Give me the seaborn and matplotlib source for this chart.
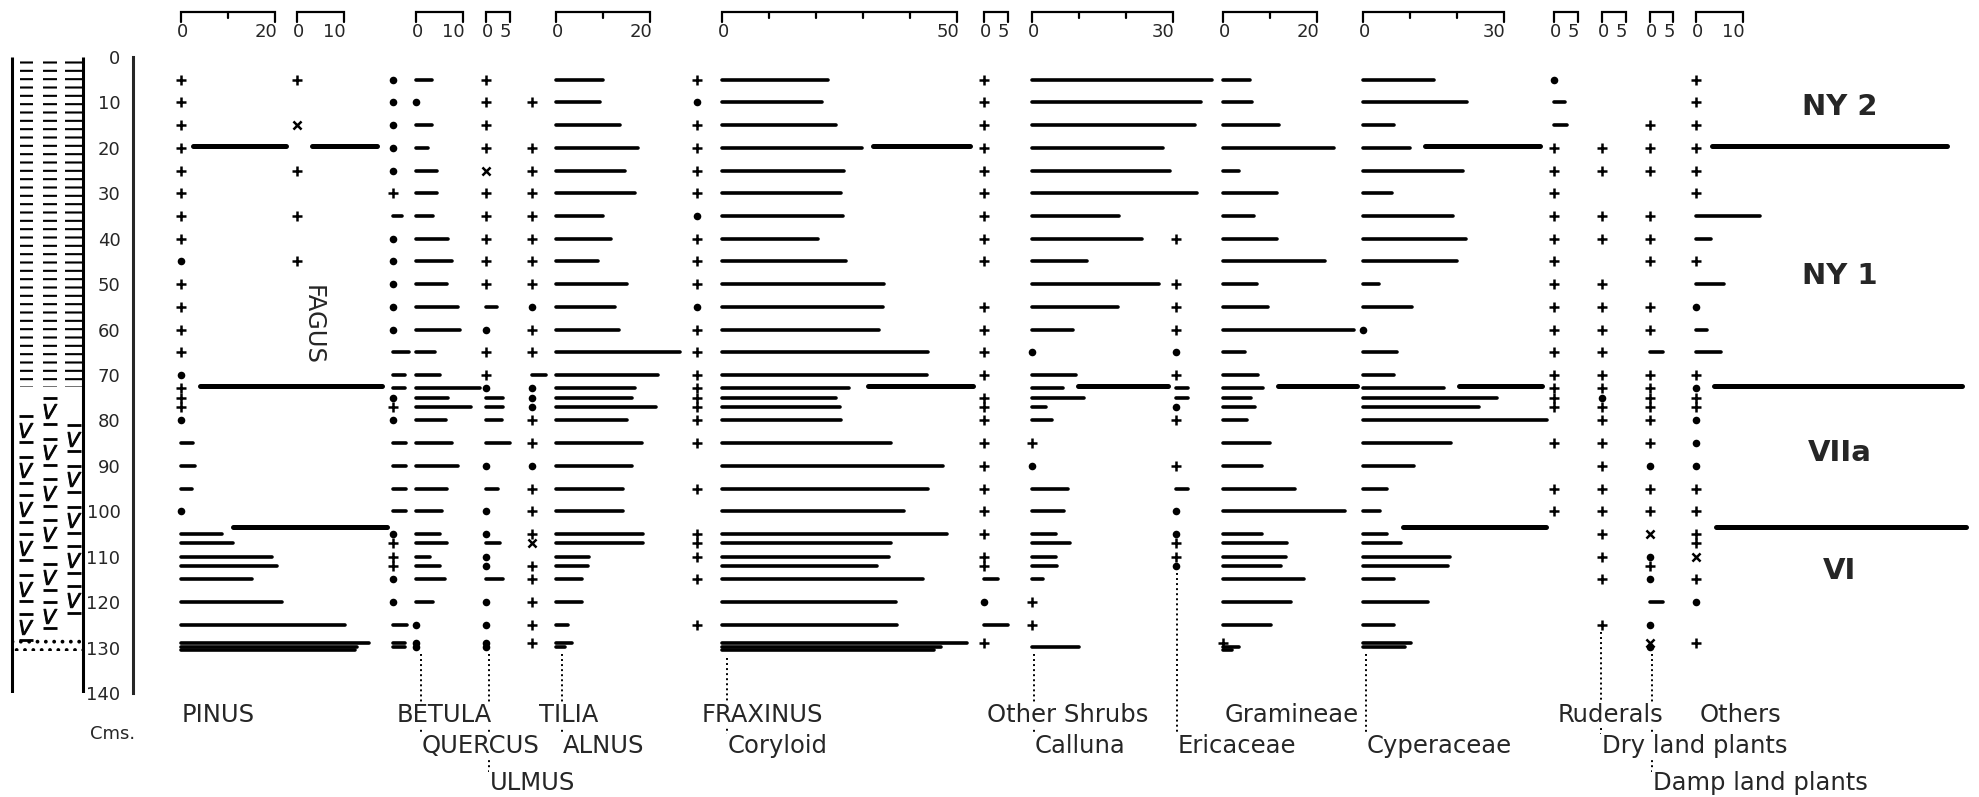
import matplotlib
matplotlib.use("Agg")
import matplotlib.pyplot as plt
from matplotlib.patches import Rectangle
import pandas as pd
import seaborn as sns

# --- Pollen counts, one entry per sample depth (cm) ---
# numbers are bar lengths in %, "+" present, "o" dot, "x" cross, None nothing
P, O, X, N = "+", "o", "x", None

DEPTHS = [5, 10, 15, 20, 25, 30, 35, 40, 45, 50, 55, 60, 65, 70,
          72.8, 75, 77, 80, 85, 90, 95, 100,
          105, 107, 110, 112, 115, 120, 125, 129.0, 129.8, 130.6]

PINUS = [P, P, P, P, P, P, P, P, O, P, P, P, P, O,
         P, P, P, O, 2.5, 3.0, 2.3, O,
         8.7, 11.1, 19.3, 20.4, 15.0, 21.4, 34.9, 40.0, 37.5, 37.0]
FAGUS = [P, N, X, N, P, N, P, N, P, N, N, N, N, N,
         N, N, N, N, N, N, N, N,
         N, N, N, N, N, N, N, N, N, N]
BETULA = [O, O, O, O, O, P, 2.0, O, O, O, O, O, 3.5, 2.6,
          2.5, O, P, O, 2.8, 2.8, 2.8, 2.8,
          O, P, P, P, O, O, 3.0, 2.5, 2.5, N]
QUERCUS = [3.3, O, 3.3, 2.6, 4.4, 4.4, 3.6, 6.9, 7.6, 6.5, 9.0, 9.4, 4.0, 5.1,
           13.6, 6.9, 11.8, 6.3, 7.6, 9.0, 6.5, 5.5,
           5.1, 6.5, 3.0, 5.1, 6.2, 3.7, O, O, O, N]
ULMUS = [P, P, P, P, X, P, P, P, P, P, 2.3, O, P, P,
         O, 3.6, 3.6, 3.3, 5.1, O, 2.6, O,
         O, 3.0, O, O, 3.6, O, O, O, O, N]
TILIA = [N, P, N, P, P, P, P, P, P, P, O, P, P, 3.0,
         O, O, O, P, P, O, P, P,
         P, X, N, P, P, P, P, P, N, N]
ALNUS = [10.1, 9.4, 13.6, 17.5, 14.7, 16.8, 10.1, 11.8, 9.0, 15.0, 12.6, 13.3, 26.4, 21.8,
         16.8, 16.1, 21.3, 15.0, 18.2, 16.1, 14.3, 14.3,
         18.6, 18.6, 7.1, 6.9, 5.5, 5.5, 2.6, 3.3, 2.0, N]
FRAXINUS = [P, O, P, P, P, P, O, P, P, P, O, P, P, P,
            P, P, P, P, P, N, P, N,
            P, P, P, N, P, N, P, N, N, N]
CORYLOID = [22.6, 21.2, 24.3, 29.7, 26.0, 25.3, 25.8, 20.4, 26.3, 34.5, 34.3, 33.5, 43.8, 43.7,
            27.0, 24.2, 25.1, 25.3, 36.0, 47.0, 43.8, 38.7,
            47.8, 36.0, 35.5, 33.0, 42.7, 37.0, 37.2, 52.2, 46.7, 45.0]
OTHER_SHRUBS = [P, P, P, P, P, P, P, P, P, N, P, P, P, P,
                N, P, P, P, P, P, P, P,
                P, N, P, P, 3.0, O, 5.2, P, N, N]
CALLUNA = [38.2, 36.0, 34.7, 27.8, 29.4, 35.0, 18.6, 23.3, 11.6, 27.1, 18.2, 8.8, O, 9.4,
           6.7, 11.1, 2.9, 4.3, P, O, 7.7, 6.9,
           5.2, 8.1, 5.2, 5.3, 2.4, P, P, N, 9.9, N]
ERICACEAE = [N, N, N, N, N, N, N, P, N, P, P, P, O, P,
             2.5, 2.5, O, P, N, P, 2.5, O,
             O, P, P, O, N, N, N, N, N, N]
GRAMINEAE = [5.7, 6.1, 12.0, 23.7, 3.5, 11.4, 6.5, 11.4, 21.7, 7.2, 9.6, 27.9, 4.7, 7.5,
             8.6, 6.0, 6.8, 5.0, 10.0, 8.4, 15.3, 26.0,
             8.2, 13.7, 13.4, 12.3, 17.2, 14.4, 10.2, P, 3.5, 2.0]
CYPERACEAE = [15.0, 22.1, 6.7, 10.0, 21.3, 6.1, 19.2, 21.9, 20.1, 3.5, 10.5, O, 7.3, 6.7,
              17.3, 28.6, 24.6, 39.2, 18.7, 10.9, 5.0, 3.6,
              5.0, 8.1, 18.5, 18.1, 6.5, 13.8, 6.5, 10.3, 9.0, N]
RUDERALS = [O, 2.4, 2.8, P, P, P, P, P, P, P, P, P, P, P,
            P, P, P, N, P, N, P, P,
            N, N, N, N, N, N, N, N, N, N]
DRY_LAND = [N, N, N, P, P, N, P, P, N, P, P, P, P, P,
            P, O, P, P, P, P, P, P,
            P, N, P, N, P, N, P, N, N, N]
DAMP_LAND = [N, N, P, P, P, N, P, P, P, N, P, P, 2.7, P,
             P, P, P, P, P, O, P, P,
             X, N, O, P, O, 2.8, O, X, O, N]
OTHERS = [P, P, P, P, P, P, 13.6, 3.1, P, 5.9, O, 2.3, 5.3, P,
          O, P, P, O, O, O, P, P,
          P, P, X, N, P, O, N, P, N, N]

ZONE_BOUNDS = [19.5, 72.5, 103.4]
ZONE_NAMES = ["NY 2", "NY 1", "VIIa", "VI"]

# --- layout (pixel positions in the 1979 px wide figure) ---
PX_PER_PCT = 4.70
X0 = 181


def u(px):
    return (px - X0) / PX_PER_PCT


# name, values, origin px, label, label row, label px, scale max, inner ticks
COLUMNS = [
    ("PINUS", PINUS, 181, "PINUS", 1, 182, 20, [10]),
    ("FAGUS", FAGUS, 297, None, 0, 0, 10, []),
    ("BETULA", BETULA, 393, "BETULA", 1, 397, None, []),
    ("QUERCUS", QUERCUS, 416, "QUERCUS", 2, 422, 10, []),
    ("ULMUS", ULMUS, 486, "ULMUS", 3, 490, 5, []),
    ("TILIA", TILIA, 532, "TILIA", 1, 539, None, []),
    ("ALNUS", ALNUS, 556, "ALNUS", 2, 563, 20, [10]),
    ("FRAXINUS", FRAXINUS, 697, "FRAXINUS", 1, 702, None, []),
    ("CORYLOID", CORYLOID, 722, "Coryloid", 2, 728, 50, [10, 20, 30, 40]),
    ("OTHER_SHRUBS", OTHER_SHRUBS, 984, "Other Shrubs", 1, 987, 5, []),
    ("CALLUNA", CALLUNA, 1032, "Calluna", 2, 1035, 30, [10, 20]),
    ("ERICACEAE", ERICACEAE, 1176, "Ericaceae", 2, 1178, None, []),
    ("GRAMINEAE", GRAMINEAE, 1223, "Gramineae", 1, 1225, 20, [10]),
    ("CYPERACEAE", CYPERACEAE, 1363, "Cyperaceae", 2, 1367, 30, [10, 20]),
    ("RUDERALS", RUDERALS, 1554, "Ruderals", 1, 1558, 5, []),
    ("DRY_LAND", DRY_LAND, 1602, "Dry land plants", 2, 1602, 5, []),
    ("DAMP_LAND", DAMP_LAND, 1650, "Damp land plants", 3, 1653, 5, []),
    ("OTHERS", OTHERS, 1696, "Others", 1, 1700, 10, []),
]
ROW_BASE = {1: 146.4, 2: 153.2, 3: 161.3}
ROW_TOP = {2: 149.0, 3: 157.3}

ZONE_SPANS = [
    [(193, 286), (312, 377), (873, 970), (1425, 1540), (1712, 1947)],
    [(200, 382), (868, 973), (1078, 1168), (1278, 1357), (1459, 1542), (1714, 1962)],
    [(233, 387), (1403, 1546), (1716, 1966)],
]
ZONE_LABEL_Y = [11.1, 48.3, 87.1, 113.2]

# --- long-form table ---
rows = []
for name, vals, opx, *_ in COLUMNS:
    for d, v in zip(DEPTHS, vals):
        if v is None:
            continue
        kind = v if isinstance(v, str) else "bar"
        val = 0.0 if isinstance(v, str) else float(v)
        rows.append({"taxon": name, "depth": d, "kind": kind, "x0": u(opx), "value": val})
df = pd.DataFrame(rows)
df["x1"] = df["x0"] + df["value"]

sns.set_style("white")
plt.rcParams["font.family"] = ["DejaVu Sans"]
plt.rcParams["hatch.linewidth"] = 1.5

fig = plt.figure(figsize=(19.79, 7.97), dpi=100)
ax = fig.add_axes([0, 1 - 693 / 797, 1, 636 / 797])
ax.set_xlim(u(0), u(1979))
ax.set_ylim(140, 0)

# bars
bars = df[df["kind"] == "bar"]
ax.hlines(bars["depth"], bars["x0"], bars["x1"], colors="black",
          lw=2.6, capstyle="round", zorder=3)

# symbols
sns.scatterplot(data=df[df["kind"] == "+"], x="x0", y="depth", marker="+",
                s=48, color="black", linewidth=1.8, ax=ax, legend=False, zorder=3)
sns.scatterplot(data=df[df["kind"] == "x"], x="x0", y="depth", marker="x",
                s=34, color="black", linewidth=1.8, ax=ax, legend=False, zorder=3)
sns.scatterplot(data=df[df["kind"] == "o"], x="x0", y="depth", marker="o",
                s=30, color="black", edgecolor="black", linewidth=0, ax=ax,
                legend=False, zorder=3)

# zone boundaries and names
for depth, spans in zip(ZONE_BOUNDS, ZONE_SPANS):
    for a, b in spans:
        ax.hlines(depth, u(a), u(b), colors="black", lw=3.6, capstyle="round", zorder=3)
for name, y in zip(ZONE_NAMES, ZONE_LABEL_Y):
    ax.text(u(1840), y, name, ha="center", va="center", fontsize=21,
            fontweight="bold", clip_on=False)

# scale brackets on top
BR_Y, BR_TICK, BR_INNER, BR_NUM = -10.0, -7.6, -8.6, -5.6
for name, vals, opx, label, row, lpx, smax, inner in COLUMNS:
    if smax is None:
        continue
    x0 = u(opx)
    x1 = x0 + smax
    ax.plot([x0, x0, x1, x1], [BR_TICK, BR_Y, BR_Y, BR_TICK], color="black",
            lw=1.6, clip_on=False, solid_joinstyle="miter")
    for t in inner:
        ax.plot([x0 + t, x0 + t], [BR_Y, BR_INNER], color="black", lw=1.6, clip_on=False)
    ax.text(x0 + 0.4, BR_NUM, "0", ha="center", va="center", fontsize=13, clip_on=False)
    ax.text(x1 + 0.4, BR_NUM, str(smax), ha="right", va="center", fontsize=13,
            clip_on=False)

# taxon names and dotted leaders
for name, vals, opx, label, row, lpx, smax, inner in COLUMNS:
    if label is None:
        continue
    ax.text(u(lpx), ROW_BASE[row], label, ha="left", va="baseline", fontsize=17.5,
            clip_on=False, zorder=5,
            bbox=dict(facecolor="white", edgecolor="none", pad=0.5))
    if row > 1:
        last = max(d for d, v in zip(DEPTHS, vals) if v is not None)
        ax.vlines(u(lpx - 1), last + 1.6, ROW_TOP[row], colors="black",
                  linestyles=(0, (1, 1.6)), lw=1.4, clip_on=False, zorder=2)
ax.text(u(313), 59, "FAGUS", rotation=270, ha="center", va="center", fontsize=17.5)

# depth axis
ax.spines[["top", "right", "bottom"]].set_visible(False)
ax.spines["left"].set_position(("data", u(133)))
ax.spines["left"].set_linewidth(2.2)
ax.set_xticks([])
ax.set_yticks(range(0, 141, 10))
ax.tick_params(axis="y", direction="out", length=6, width=2, labelsize=13, pad=3)
ax.set_xlabel("")
ax.set_ylabel("")
ax.text(u(90), 150.2, "Cms.", ha="left", va="baseline", fontsize=13, clip_on=False)

# stratigraphy column
SL, SR = u(12), u(83)
ax.vlines([SL, SR], 0, 140, colors="black", lw=2.2)
SUB_COLS = [(20, 33), (43, 57), (65, 83)]
STRAT_V = [[82, 91, 99.5, 108, 117, 125.5],
           [78, 87, 96, 105, 114.5, 123],
           [84, 93, 102, 110.7, 119.5]]
for (a, b), vs in zip(SUB_COLS, STRAT_V):
    ax.add_patch(Rectangle((u(a), 0.7), u(b) - u(a), 71.9, facecolor="none",
                           edgecolor="black", hatch="--", lw=0))
    cx = (u(a) + u(b)) / 2
    ax.scatter([cx] * len(vs), vs, marker="$V$", s=110, color="black", linewidths=0.6)
    dashes = [v - 3.0 for v in vs] + [v + 2.8 for v in vs]
    ax.scatter([cx] * len(dashes), dashes, marker="_", s=90, color="black", linewidths=2.0)
ax.add_patch(Rectangle((SL, 127.4), SR - SL, 3.3, facecolor="none",
                       edgecolor="black", hatch="..", lw=0))

fig.savefig("out.png", dpi=100)
